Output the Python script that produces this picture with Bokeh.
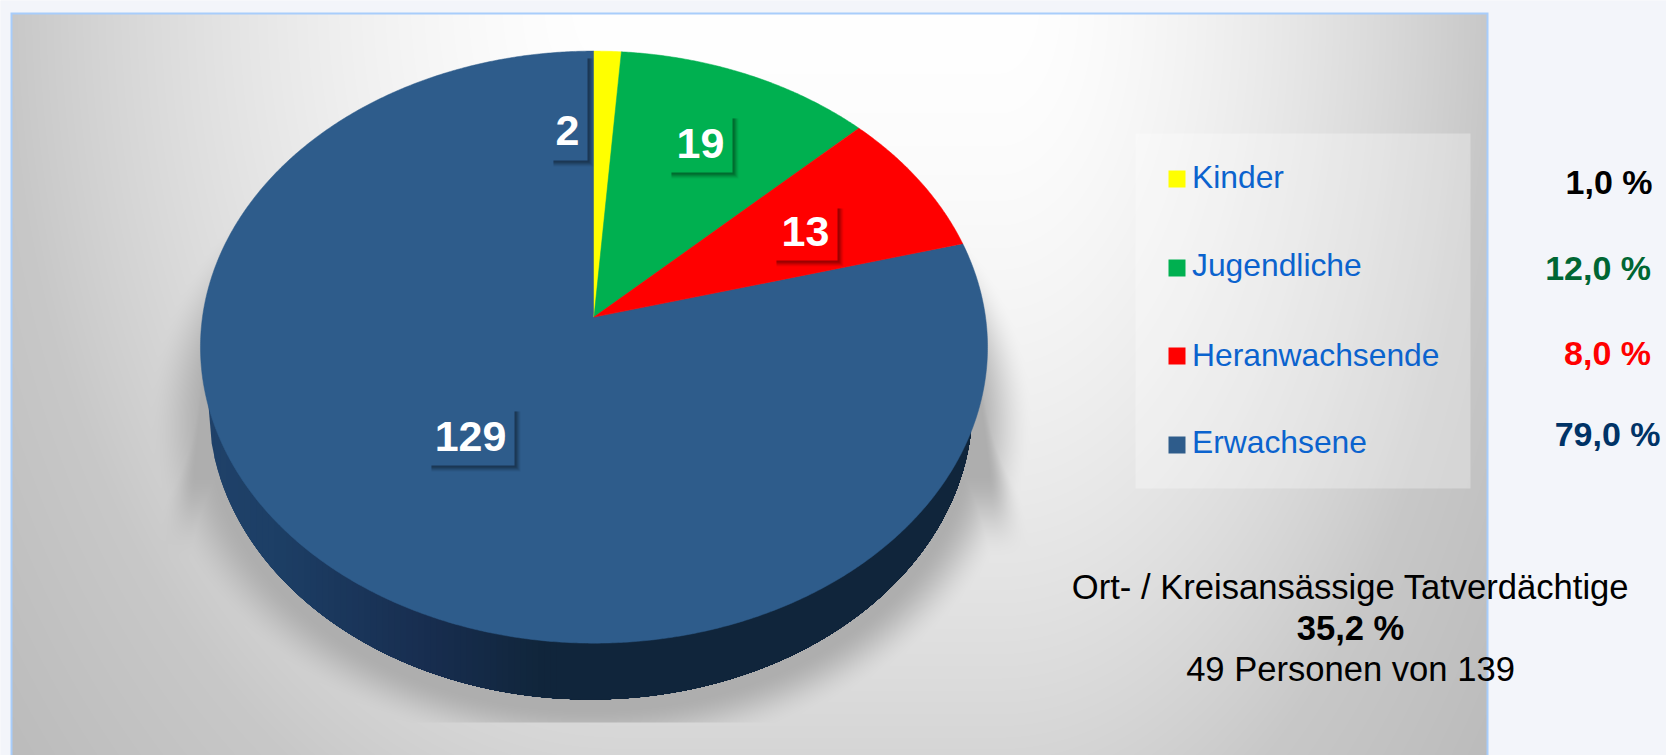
import numpy as np
from bokeh.plotting import figure, ColumnDataSource
from bokeh.models import Range1d
from bokeh.core.properties import value
from bokeh.embed import file_html
from bokeh.resources import INLINE

# ---- data ----
categories = ["Kinder", "Jugendliche", "Heranwachsende", "Erwachsene"]
counts = [2, 19, 13, 129]
slice_colors = ["#ffff00", "#00b050", "#ff0000", "#2e5c8b"]
percent_labels = ["1,0 %", "12,0 %", "8,0 %", "79,0 %"]
percent_colors = ["#000000", "#006633", "#ff0000", "#003366"]
note_lines = ["Ort- / Kreisansässige Tatverdächtige", "35,2 %", "49 Personen von 139"]

# ---- layout (page pixels, y downwards) ----
W, H = 1666, 755
FONT = value("Liberation Sans")
vx, vy = 593.5, 316.6           # pie apex
persp = 0.1014                  # perspective of the tilted disc
ax, ay = 391.5, 293.0
label_boxes = [(549, 55, 587, 160), (667, 115, 732, 172), (772, 205, 837, 260), (427, 408, 514, 465)]
label_xy = [(567, 147), (700, 160), (805, 248), (470, 453)]
label_fill = ["#2e5c8b", "#00b050", "#ff0000", "#2e5c8b"]
legend_y = [178.5, 267.5, 355.5, 444.5]
legend_base = [189, 277, 367, 454]
percent_right = [1652, 1650.5, 1650.5, 1660]
percent_base = [195, 281, 366, 447]
note_base = [600, 641, 682]
TEXT_SHIFT = 0.40               # alphabetic baseline correction, in em


def Y(v):
    return H - np.asarray(v, float)


def base(v, size):
    return Y(np.asarray(v, float) - TEXT_SHIFT * size).tolist()


def project(theta):
    X, Yy = np.sin(theta), np.cos(theta)
    d = 1 + persp * Yy
    return vx + ax * X / d, vy - ay * Yy / d


# ---- background raster: card gradient, soft shadow, border ----
py, px = np.mgrid[0:H, 0:W] + 0.5
dxl = np.clip(620 - px, 0, None) / 610
dxr = np.clip(px - 1000, 0, None) / 487
t = np.sqrt((dxl + dxr) ** 2 + (py / 900) ** 2)
drop = np.where(t < 1, 55 * t ** 1.6, 55 + (t - 1) * 40)
bg = 255 - drop


def smooth(e):
    e = np.clip(e, 0, 1)
    return e * e * (3 - 2 * e)


ell = np.sqrt(((px - 590) / 398) ** 2 + ((py - 418) / 304) ** 2)
a_ell = 1 - smooth((ell - 0.95) / 0.16)
# flanks of the shadow: sharp near the top, softer lower down
xl = 213 - (py - 253) * 40 / 244
xr = 962 + (py - 244) * 50 / 256
soft = np.clip((py - 240) * 0.12, 1, 60)
a_tr = smooth((px - xl) / soft + 0.3) * smooth((xr - px) / soft + 0.3)
a_tr *= smooth((py - 255) / 70) * (1 - smooth((py - 470) / 90))
shadow = np.maximum(a_ell, a_tr)
shadow[py > 722] = 0
bg = bg * (1 - shadow) + 0xae * shadow

rgb = np.dstack([bg, bg, bg])
page = np.array([0xf3, 0xf5, 0xfa], float)
outside = (px < 10) | (px > 1488) | (py < 12)
rgb[outside] = page
edge = (~outside) & ((px < 12) | (px > 1486) | (py < 14))
rgb[edge] = [0xa8, 0xcd, 0xfb]
rgba = np.dstack([rgb, np.full(bg.shape, 255.0)]).astype(np.uint8)
img = rgba[:, :, 0].astype(np.uint32) | (rgba[:, :, 1].astype(np.uint32) << 8) | \
      (rgba[:, :, 2].astype(np.uint32) << 16) | (rgba[:, :, 3].astype(np.uint32) << 24)
img = img[::-1]

p = figure(width=W, height=H, output_backend="svg", toolbar_location=None,
           x_range=Range1d(0, W), y_range=Range1d(0, H),
           min_border=0, outline_line_color=None, background_fill_color="#f3f5fa",
           border_fill_color="#f3f5fa")
p.axis.visible = False
p.grid.visible = False
p.image_rgba(image=[img], x=0, y=0, dw=W, dh=H)

# ---- pie side: horizontal dark gradient, painted left to right ----
cy_rim = vy + ((ay / (1 - persp)) - (ay / (1 + persp))) / 2
lx, lrx, lcy, lry = 590.0, 382.0, 405.0, 294.0   # lower rim of the disc
stops_x = [200, 272, 421, 536, 990]
stops_c = [(0x20, 0x42, 0x6a), (0x1d, 0x3f, 0x66), (0x18, 0x2e, 0x50), (0x11, 0x26, 0x3c), (0x10, 0x24, 0x38)]
for x0 in np.arange(lx - lrx, 560, 6.0):
    c = [int(np.interp(x0, stops_x, [s[i] for s in stops_c])) for i in range(3)]
    xs = np.linspace(x0, lx + lrx, 240)
    lower = lcy + lry * np.sqrt(np.clip(1 - ((xs - lx) / lrx) ** 2, 0, 1))
    p.patch(np.r_[xs, xs[-1], x0], Y(np.r_[lower, cy_rim, cy_rim]),
            fill_color="#%02x%02x%02x" % tuple(c), line_color=None)

# ---- pie top ----
total = sum(counts)
order = [3, 0, 1, 2]
starts = np.cumsum([0] + counts[:-1]) / total * 2 * np.pi
ends = np.cumsum(counts) / total * 2 * np.pi
for i in order:
    th = np.linspace(starts[i], ends[i], max(8, int(counts[i] * 6)))
    x, y = project(th)
    p.patch(np.r_[vx, x], Y(np.r_[vy, y]), fill_color=slice_colors[i], line_color=slice_colors[i], line_width=0.5)

# ---- value labels with shadowed boxes ----
for (x0, y0, x1, y1), c in zip(label_boxes, label_fill):
    for k, al in zip([7, 6, 5, 4, 3], [0.05, 0.07, 0.09, 0.11, 0.13]):
        p.quad(left=[x0 + 4], right=[x1 + k - 1], top=Y([y0 + 3]), bottom=Y([y1 + k - 1]),
               fill_color="#000000", fill_alpha=al, line_color=None)
    p.quad(left=[x0], right=[x1], top=Y([y0]), bottom=Y([y1]), fill_color=c, line_color=None)
p.text(x=[a for a, _ in label_xy], y=base([b for _, b in label_xy], 43), text=[str(v) for v in counts],
       text_color="#ffffff", text_font=FONT, text_font_style="bold", text_font_size=value("43px"),
       text_align="center", text_baseline="alphabetic")

# ---- legend ----
p.quad(left=[1135], right=[1470], top=Y([133]), bottom=Y([488]), fill_color="#ffffff", fill_alpha=0.3, line_color=None)
p.rect(x=[1176.5] * 4, y=Y(legend_y), width=17, height=17, fill_color=slice_colors, line_color=None)
p.text(x=[1191.5] * 4, y=base(legend_base, 31.8), text=categories, text_color="#0b63ce", text_font=FONT,
       text_font_size=value("31.8px"), text_align="left", text_baseline="alphabetic")

# ---- percentages ----
src = ColumnDataSource(dict(x=percent_right, y=base(percent_base, 34), t=percent_labels, c=percent_colors))
p.text(x="x", y="y", text="t", text_color="c", source=src, text_font=FONT, text_font_style="bold",
       text_font_size=value("34px"), text_align="right", text_baseline="alphabetic")

# ---- note ----
for line, b, style in zip(note_lines, note_base, ["normal", "bold", "normal"]):
    p.text(x=[1350], y=base([b], 34.6), text=[line], text_color="#000000", text_font=FONT, text_font_style=style,
           text_font_size=value("34.6px"), text_align="center", text_baseline="alphabetic")

html = file_html(p, INLINE)
open("out.html", "w").write(html)
